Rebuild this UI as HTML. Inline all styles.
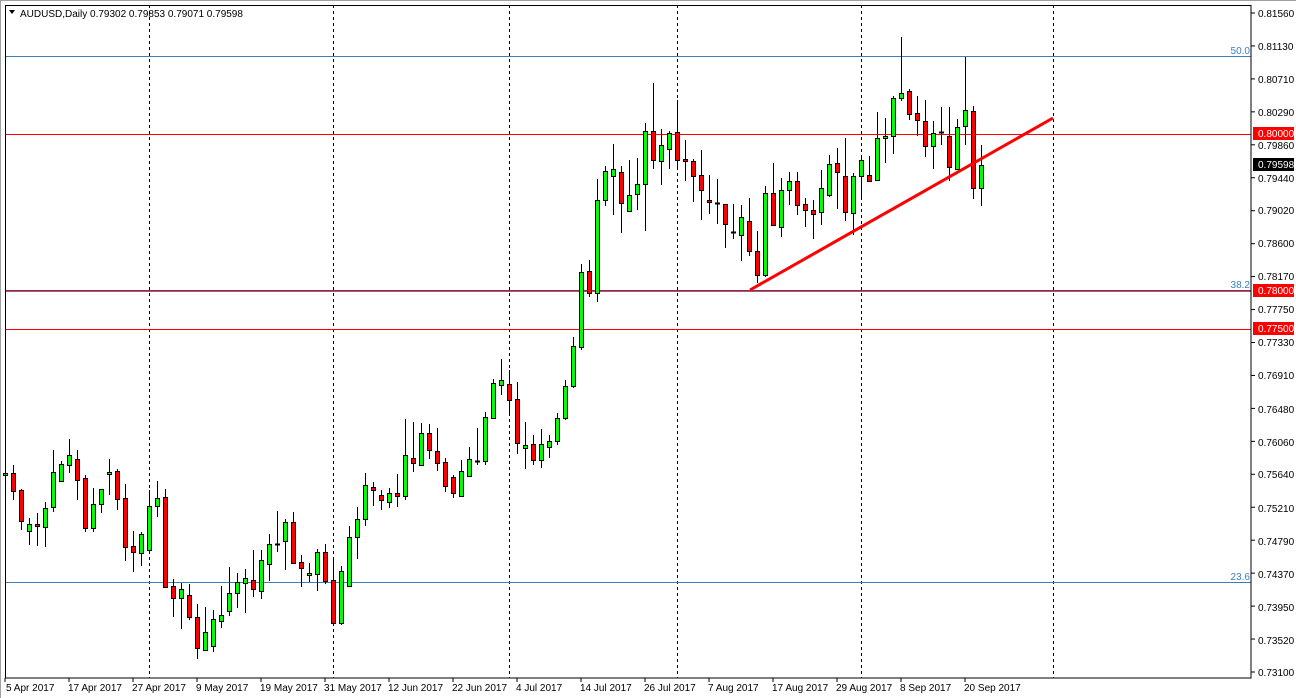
<!DOCTYPE html>
<html><head><meta charset="utf-8"><style>
html,body{margin:0;padding:0;background:#fff;}
svg{display:block;font-family:"Liberation Sans",sans-serif;}
</style></head><body>
<svg id="c" width="1296" height="698" xmlns="http://www.w3.org/2000/svg">
<rect x="0" y="0" width="1296" height="698" fill="#fff"/>
<line x1="0" y1="0.5" x2="1296" y2="0.5" stroke="#a0a0a0"/>
<line x1="0.5" y1="0" x2="0.5" y2="698" stroke="#a0a0a0"/>
<g stroke="#000" stroke-dasharray="3,3" stroke-width="1">
<line x1="149.5" y1="5" x2="149.5" y2="678"/>
<line x1="333.5" y1="5" x2="333.5" y2="678"/>
<line x1="509.5" y1="5" x2="509.5" y2="678"/>
<line x1="677.5" y1="5" x2="677.5" y2="678"/>
<line x1="861.5" y1="5" x2="861.5" y2="678"/>
<line x1="1053.5" y1="5" x2="1053.5" y2="678"/>
</g>
<g stroke-width="1">
<line x1="5" y1="56.5" x2="1251" y2="56.5" stroke="#3c7fbf"/>
<line x1="5" y1="291.5" x2="1251" y2="291.5" stroke="#3c7fbf"/>
<line x1="5" y1="582.5" x2="1251" y2="582.5" stroke="#3c7fbf"/>
<line x1="5" y1="134.5" x2="1251" y2="134.5" stroke="#ff0000"/>
<line x1="5" y1="290.5" x2="1251" y2="290.5" stroke="#ff0000"/>
<line x1="5" y1="329.5" x2="1251" y2="329.5" stroke="#ff0000"/>
</g>
<g font-size="10" fill="#3c7fbf" text-anchor="end">
<text x="1250" y="54">50.0</text>
<text x="1250" y="288">38.2</text>
<text x="1250" y="580">23.6</text>
</g>
<g id="cand"></g>
<line x1="750" y1="290" x2="1053" y2="118" stroke="#ff0000" stroke-width="3"/>
<rect x="5.5" y="5.5" width="1245.5" height="672.5" fill="none" stroke="#000"/>
<g font-size="10" fill="#000">
<text x="20" y="17">AUDUSD,Daily  0.79302 0.79853 0.79071 0.79598</text>
</g>
<polygon points="9,10 15,10 12,14" fill="#000"/>
<g id="yt" font-size="10" fill="#000"></g>
<g font-size="10" fill="#000">
<text x="1258" y="17">0.81560</text><text x="1258" y="50">0.81130</text><text x="1258" y="83">0.80710</text><text x="1258" y="116">0.80290</text><text x="1258" y="149">0.79860</text><text x="1258" y="182">0.79440</text><text x="1258" y="214">0.79020</text><text x="1258" y="247">0.78600</text><text x="1258" y="280">0.78170</text><text x="1258" y="313">0.77750</text><text x="1258" y="346">0.77330</text><text x="1258" y="379">0.76910</text><text x="1258" y="413">0.76480</text><text x="1258" y="446">0.76060</text><text x="1258" y="478">0.75640</text><text x="1258" y="512">0.75210</text><text x="1258" y="545">0.74790</text><text x="1258" y="578">0.74370</text><text x="1258" y="611">0.73950</text><text x="1258" y="644">0.73520</text><text x="1258" y="676">0.73100</text>
</g>
<rect x="1253" y="127" width="41" height="13" fill="#ff0000"/>
<text x="1258" y="137" font-size="10" fill="#fff">0.80000</text>
<rect x="1253" y="158" width="41" height="13" fill="#000"/>
<text x="1258" y="168" font-size="10" fill="#fff">0.79598</text>
<rect x="1253" y="284" width="41" height="13" fill="#ff0000"/>
<text x="1258" y="294" font-size="10" fill="#fff">0.78000</text>
<rect x="1253" y="322" width="41" height="13" fill="#ff0000"/>
<text x="1258" y="332" font-size="10" fill="#fff">0.77500</text>
<g font-size="10" fill="#000">
<text x="6" y="691">5 Apr 2017</text><text x="68" y="691">17 Apr 2017</text><text x="132" y="691">27 Apr 2017</text><text x="196" y="691">9 May 2017</text><text x="260" y="691">19 May 2017</text><text x="324" y="691">31 May 2017</text><text x="388" y="691">12 Jun 2017</text><text x="452" y="691">22 Jun 2017</text><text x="516" y="691">4 Jul 2017</text><text x="580" y="691">14 Jul 2017</text><text x="644" y="691">26 Jul 2017</text><text x="708" y="691">7 Aug 2017</text><text x="772" y="691">17 Aug 2017</text><text x="836" y="691">29 Aug 2017</text><text x="900" y="691">8 Sep 2017</text><text x="964" y="691">20 Sep 2017</text>
</g>
</svg>
<script>
var D=[
['g',473,475,457,482],['r',473,491,465,500],['r',490,521,489,530],['g',524,531,518,545],['r',524,526,513,546],
['g',508,527,502,547],['g',472,507,450,512],['g',464,481,461,482],['g',455,465,439,473],['r',459,480,450,500],
['r',478,528,475,532],['g',504,528,488,532],['g',489,504,489,513],['g',472,474,459,495],['r',471,499,469,510],
['r',498,547,484,561],['r',546,552,531,572],['g',534,553,532,566],['g',506,550,490,553],['g',498,506,481,517],
['r',497,587,489,587],['r',586,598,579,617],['g',589,598,583,629],['r',595,617,584,620],['r',617,648,604,659],
['g',632,650,607,651],['g',619,646,610,652],['g',615,621,586,628],['g',593,611,567,616],['g',582,593,573,608],
['g',578,583,569,613],['r',580,589,550,597],['g',560,591,550,599],['g',544,564,534,581],['g',544,545,511,552],
['g',522,541,519,570],['r',522,563,512,564],['r',562,568,555,587],['g',573,575,563,582],['g',552,574,549,591],
['r',552,581,544,584],['r',580,623,560,623],['g',571,623,566,625],['g',537,586,526,587],['g',519,537,507,559],
['g',485,519,473,526],['r',487,490,482,506],['r',495,500,490,510],['g',493,502,488,508],['r',493,496,474,507],
['g',455,496,419,500],['r',458,463,422,472],['g',433,465,423,465],['r',433,450,424,459],['r',451,463,428,471],
['r',462,486,458,492],['r',477,493,475,498],['g',471,496,460,496],['g',459,476,447,477],['g',461,462,428,465],
['g',417,461,412,465],['g',383,418,379,419],['g',380,385,359,395],['r',384,400,370,414],['r',399,443,382,454],
['g',445,448,422,469],['r',444,460,435,465],['g',444,460,429,468],['g',441,447,435,458],['g',418,441,413,445],
['g',386,418,380,420],['g',346,386,337,388],['g',272,347,264,350],['r',271,293,260,297],['g',200,293,179,302],
['g',171,200,166,206],['g',169,176,144,215],['r',172,203,166,233],['g',195,211,160,211],['g',184,194,158,210],
['g',131,184,123,231],['r',131,160,83,169],['g',145,161,129,185],['g',133,149,131,169],['r',132,160,100,169],
['r',159,161,140,181],['r',161,176,159,202],['r',175,190,150,220],['r',200,202,175,214],['r',203,204,179,224],
['r',204,224,204,248],['r',232,233,204,239],['g',217,235,205,261],['r',221,251,198,256],['r',251,275,231,283],
['g',193,275,186,277],['r',193,225,163,225],['g',190,227,178,237],['g',181,190,172,205],['r',181,205,172,215],
['r',204,210,198,227],['r',210,214,200,239],['g',188,212,170,225],['g',164,195,155,197],['r',163,172,148,209],
['r',176,212,138,221],['g',176,213,173,235],['g',160,176,155,198],['r',175,181,156,181],['g',138,180,112,180],
['g',136,138,118,163],['g',98,136,96,154],['g',93,98,37,101],['r',91,114,89,120],['r',113,120,96,136],
['r',121,146,100,157],['g',133,146,121,169],['r',132,133,107,145],['r',136,167,107,181],['g',127,169,119,169],
['g',110,126,57,145],['r',111,188,106,199],['g',165,188,145,206]];
var s='';
for(var i=0;i<D.length;i++){var d=D[i],x=5+8*i;
s+='<line x1="'+(x+0.5)+'" y1="'+d[3]+'" x2="'+(x+0.5)+'" y2="'+d[4]+'" stroke="#000"/>';
var h=Math.max(d[2]-d[1],1);
if(d[2]-d[1]<=1){s+='<line x1="'+(x-2)+'" y1="'+(d[1]+0.5)+'" x2="'+(x+3)+'" y2="'+(d[1]+0.5)+'" stroke="#000" stroke-width="2"/>';}
else s+='<rect x="'+(x-1.5)+'" y="'+(d[1]+0.5)+'" width="4" height="'+h+'" fill="'+(d[0]=='g'?'#00ff00':'#ff0000')+'" stroke="#000"/>';}
document.getElementById('cand').innerHTML=s;
var t='';for(var k=0;k<21;k++){var y=13+k*32.95;t+='<line x1="1251" y1="'+y+'" x2="1255" y2="'+y+'" stroke="#000"/>';}
for(var k=0;k<16;k++){var x=5+64*k;t+='<line x1="'+x+'" y1="678" x2="'+x+'" y2="682" stroke="#000"/>';}
document.getElementById('yt').innerHTML=t;
</script>
</body></html>
